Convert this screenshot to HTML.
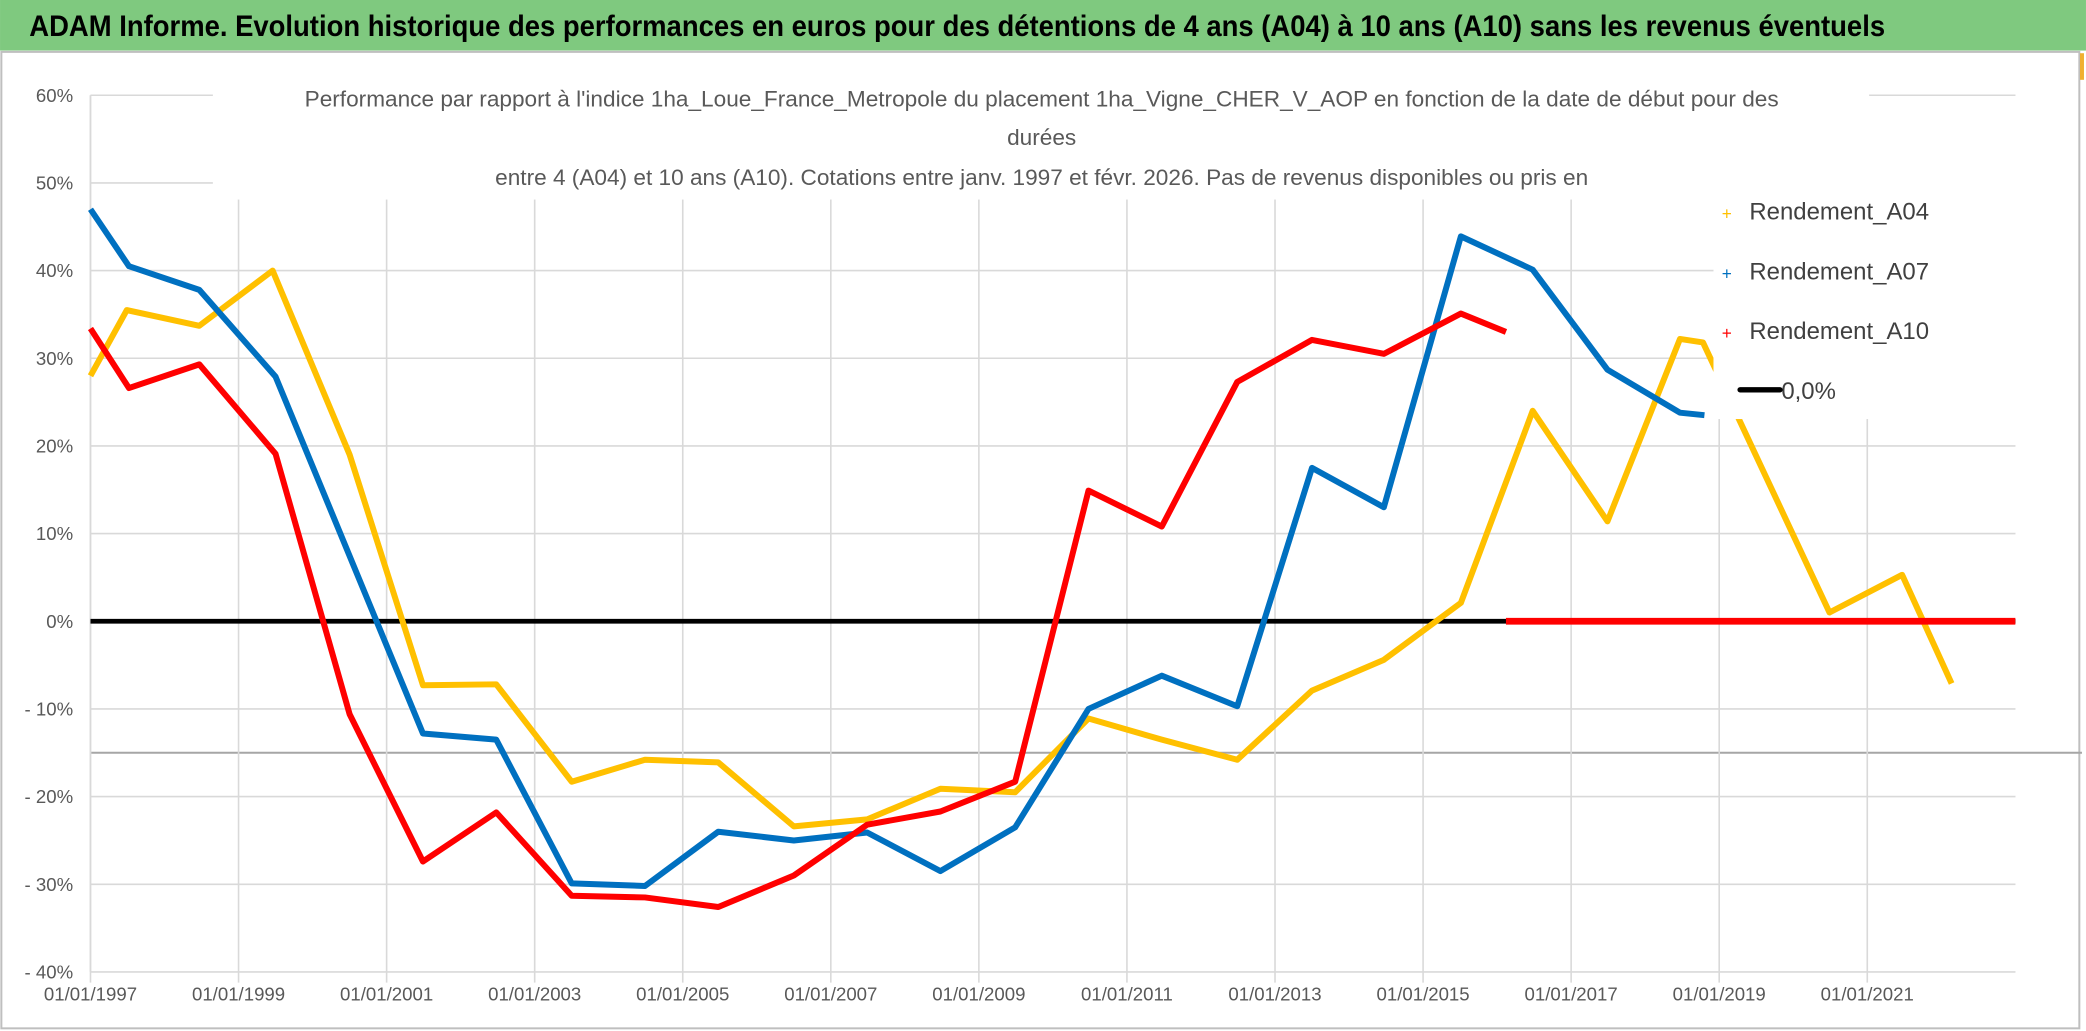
<!DOCTYPE html>
<html><head><meta charset="utf-8"><style>
html,body{margin:0;padding:0;background:#fff;}
svg{display:block;font-family:"Liberation Sans",sans-serif;}
</style></head><body>
<svg id="chart" width="2086" height="1031" viewBox="0 0 1568 775" xmlns="http://www.w3.org/2000/svg">
<rect x="0" y="0" width="1568" height="775" fill="#fff"/>
<rect x="0" y="0" width="1568" height="38" fill="#7fc97f"/>
<text x="22" y="27" font-size="22" font-weight="bold" fill="#000" textLength="1395" lengthAdjust="spacingAndGlyphs">ADAM Informe. Evolution historique des performances en euros pour des détentions de 4 ans (A04) à 10 ans (A10) sans les revenus éventuels</text>
<rect x="1" y="39" width="1562" height="734" fill="none" stroke="#bfbfbf" stroke-width="1.5"/>
<line x1="1565" y1="40" x2="1565" y2="60" stroke="#f0b030" stroke-width="3"/>
<g id="grid"></g>
<g id="axes"></g>
<rect x="160" y="58" width="1245" height="92" fill="#fff"/>
<g fill="#595959" font-size="17" text-anchor="middle">
<text x="783" y="80">Performance par rapport à l'indice 1ha_Loue_France_Metropole  du placement 1ha_Vigne_CHER_V_AOP en fonction de la date de début pour des</text>
<text x="783" y="109">durées</text>
<text x="783" y="139">entre 4 (A04) et 10 ans (A10). Cotations entre janv. 1997 et févr. 2026. Pas de revenus disponibles ou pris en</text>
</g>
<g id="series"></g>
<g>
<rect x="1288" y="132" width="232" height="183" fill="#fff"/>
<g font-size="18" fill="#404040">
<text x="1315" y="165">Rendement_A04</text>
<text x="1315" y="210">Rendement_A07</text>
<text x="1315" y="255">Rendement_A10</text>
<text x="1339" y="300">0,0%</text>
</g>
<text x="1298" y="165" font-size="13" fill="#ffc000" text-anchor="middle">+</text>
<text x="1298" y="210" font-size="13" fill="#0070c0" text-anchor="middle">+</text>
<text x="1298" y="255" font-size="13" fill="#ff0000" text-anchor="middle">+</text>
<line x1="1308" y1="293" x2="1338" y2="293" stroke="#000" stroke-width="4" stroke-linecap="round"/>
</g>
</svg>
<script>
const yTicks = [60,50,40,30,20,10,0,-10,-20,-30,-40];
const yTickLabels = ["60%","50%","40%","30%","20%","10%","0%","- 10%","- 20%","- 30%","- 40%"];
const xTicks = [1997,1999,2001,2003,2005,2007,2009,2011,2013,2015,2017,2019,2021];
const xTickLabels = ["01/01/1997","01/01/1999","01/01/2001","01/01/2003","01/01/2005","01/01/2007","01/01/2009","01/01/2011","01/01/2013","01/01/2015","01/01/2017","01/01/2019","01/01/2021"];
const a04Dates = [1997.0,1997.49,1998.47,1999.46,2000.5,2001.49,2002.48,2003.5,2004.49,2005.48,2006.5,2007.49,2008.48,2009.49,2010.48,2011.47,2012.49,2013.5,2014.47,2015.51,2016.48,2017.49,2018.47,2018.78,2020.49,2021.47,2022.14];
const a04Values = [28,35.5,33.7,40,19,-7.3,-7.2,-18.3,-15.8,-16.1,-23.4,-22.6,-19.1,-19.5,-11.1,-13.5,-15.8,-7.9,-4.4,2.1,24,11.4,32.2,31.8,1,5.3,-7.1];
const a07Dates = [1997.0,1997.52,1998.47,1999.5,2001.49,2002.48,2003.5,2004.49,2005.48,2006.5,2007.49,2008.48,2009.49,2010.48,2011.47,2012.49,2013.5,2014.47,2015.51,2016.48,2017.49,2018.47,2018.8];
const a07Values = [47,40.5,37.8,27.9,-12.8,-13.5,-29.9,-30.2,-24,-25,-24.1,-28.5,-23.5,-10,-6.2,-9.7,17.5,13,43.9,40.1,28.7,23.8,23.5];
const a10Dates = [1997.0,1997.52,1998.47,1999.5,2000.5,2001.49,2002.48,2003.5,2004.49,2005.48,2006.5,2007.49,2008.48,2009.49,2010.48,2011.47,2012.49,2013.5,2014.47,2015.51,2016.12];
const a10Values = [33.4,26.6,29.3,19.1,-10.6,-27.4,-21.8,-31.3,-31.5,-32.6,-29,-23.2,-21.7,-18.3,14.9,10.8,27.3,32.1,30.5,35.1,33.0];
const zeroTailDates = [2016.12,2023.0];
const zeroTailValues = [0,0];

const NS="http://www.w3.org/2000/svg";
const X0=68, X1=1515, PX_PER_YEAR=55.65, Y0=467, PX_PER_PCT=6.59;
function xs(d){return X0+(d-1997)*PX_PER_YEAR;}
function ys(v){return Y0-v*PX_PER_PCT;}
function mk(tag,attrs,parent){const e=document.createElementNS(NS,tag);for(const k in attrs)e.setAttribute(k,attrs[k]);parent.appendChild(e);return e;}
const grid=document.getElementById('grid'), axes=document.getElementById('axes'), series=document.getElementById('series');
yTicks.forEach((t,i)=>{
  const l=mk('line',{x1:X0,x2:X1,y1:ys(t),y2:ys(t),stroke:'#d9d9d9','stroke-width':1.2},grid);
  
  
  const tx=mk('text',{x:55,y:ys(t)+5,'font-size':14,fill:'#595959','text-anchor':'end'},axes);
  tx.textContent=yTickLabels[i];
  
  
});
const extra=mk('line',{x1:X0,x2:1565,y1:ys(-15),y2:ys(-15),stroke:'#a6a6a6','stroke-width':1.5},grid);


xTicks.forEach((t,i)=>{
  const l=mk('line',{x1:xs(t),x2:xs(t),y1:ys(60),y2:ys(-40)+8,stroke:'#d9d9d9','stroke-width':1.2},grid);
  
  
  const tx=mk('text',{x:xs(t),y:752,'font-size':14,fill:'#595959','text-anchor':'middle'},axes);
  tx.textContent=xTickLabels[i];
  
  
});
const ax=mk('line',{x1:X0,x2:X0,y1:ys(60),y2:ys(-40),stroke:'#d9d9d9','stroke-width':1.2},axes);


function pts(d,v){return d.map((x,i)=>xs(x).toFixed(1)+','+ys(v[i]).toFixed(1)).join(' ');}
const zl=mk('line',{x1:X0,x2:X1,y1:ys(0),y2:ys(0),stroke:'#000','stroke-width':3.5},series);


const p4=mk('polyline',{points:pts(a04Dates,a04Values),fill:'none',stroke:'#ffc000','stroke-width':4.5,'stroke-linejoin':'round'},series);


const p7=mk('polyline',{points:pts(a07Dates,a07Values),fill:'none',stroke:'#0070c0','stroke-width':4.5,'stroke-linejoin':'round'},series);


const p10=mk('polyline',{points:pts(a10Dates,a10Values),fill:'none',stroke:'#ff0000','stroke-width':4.5,'stroke-linejoin':'round'},series);


const pz=mk('polyline',{points:pts(zeroTailDates,zeroTailValues),fill:'none',stroke:'#ff0000','stroke-width':5},series);


</script>
</body></html>
